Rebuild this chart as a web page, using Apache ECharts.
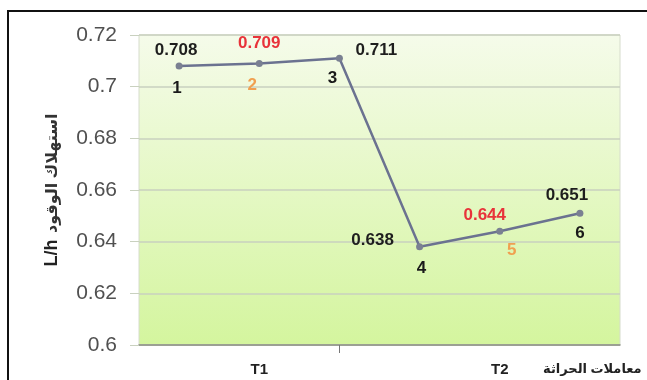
<!DOCTYPE html>
<html>
<head>
<meta charset="utf-8">
<script src="https://cdn.jsdelivr.net/npm/echarts@6/dist/echarts.min.js"></script>
<style>
	html, body { margin: 0; padding: 0; background: #fff; }
	#myChart { width: 647px; height: 380px; }
</style>
</head>
<body>
<div id="myChart"></div>
<script>
	// 数据
	var categories = ['1', '2', '3', '4', '5', '6'];
	var fuelValues = [0.708, 0.709, 0.711, 0.638, 0.644, 0.651];
	var pointNumbers = ['1', '2', '3', '4', '5', '6'];
	var groupLabels = ['', 'T1', '', '', 'T2', ''];
	var yTicks = [0.6, 0.62, 0.64, 0.66, 0.68, 0.7, 0.72];

	// label styling (offsets from the point, colours)
	var valueOffsets = [[-3, -16], [0, -20], [37, -8], [-47, -7], [-15, -16], [-13, -18]];
	var valueColors = ['#1e1e1e', '#e8333a', '#1e1e1e', '#1e1e1e', '#e8333a', '#1e1e1e'];
	var numberOffsets = [[-2, 22], [-7, 22], [-7, 20], [2, 21], [12, 19], [0, 20]];
	var numberColors = ['#1a1a1a', '#f0a050', '#1a1a1a', '#1a1a1a', '#f0a050', '#1a1a1a'];

	var myChart = echarts.init(document.getElementById('myChart'));

	var valueData = fuelValues.map(function(v, i) {
		return {
			value: v,
			label: {
				show: true,
				position: 'inside',
				offset: valueOffsets[i],
				color: valueColors[i],
				formatter: v.toFixed(3)
			}
		};
	});

	var numberData = fuelValues.map(function(v, i) {
		return {
			value: v,
			label: {
				show: true,
				position: 'inside',
				offset: numberOffsets[i],
				color: numberColors[i],
				formatter: pointNumbers[i]
			}
		};
	});

	var option = {
		animation: false,
		textStyle: {
			fontFamily: 'Liberation Sans, Arial, sans-serif'
		},
		graphic: [{
			type: 'rect',
			shape: { x: 8, y: 11, width: 700, height: 420 },
			style: { fill: 'none', stroke: '#111', lineWidth: 2 },
			z: 100
		}, {
			type: 'text',
			left: 543,
			top: 363,
			style: {
				text: 'معاملات الحراثة',
				font: 'bold 13px "Noto Sans", "DejaVu Sans", sans-serif',
				fill: '#222'
			}
		}],
		grid: {
			left: 139,
			right: 27,
			top: 35,
			bottom: 35,
			show: true,
			borderWidth: 1,
			borderColor: '#d6dccc',
			backgroundColor: new echarts.graphic.LinearGradient(0, 0, 0, 1, [{
				offset: 0,
				color: '#f5fbea'
			}, {
				offset: 1,
				color: '#d4f59e'
			}])
		},
		xAxis: {
			type: 'category',
			data: categories,
			boundaryGap: true,
			axisLine: {
				lineStyle: { color: '#8a8f84', width: 1.5 }
			},
			axisTick: {
				show: true,
				alignWithLabel: true,
				interval: function(index) {
					return index === 2;
				},
				length: 8,
				lineStyle: { color: '#777' }
			},
			axisLabel: {
				interval: 0,
				margin: 17,
				fontSize: 15,
				fontWeight: 'bold',
				color: '#222',
				formatter: function(val, idx) {
					return groupLabels[idx];
				}
			},
			splitLine: { show: false }
		},
		yAxis: {
			type: 'value',
			min: 0.6,
			max: 0.72,
			interval: 0.02,
			name: '{b|L/h}  {a|استهلاك الوقود}',
			nameLocation: 'middle',
			nameGap: 78,
			nameRotate: 90,
			nameTextStyle: {
				rich: {
					a: { fontSize: 16, fontWeight: 'bold', color: '#333', fontFamily: 'Noto Sans, DejaVu Sans, sans-serif' },
					b: { fontSize: 18, fontWeight: 'bold', color: '#222', fontFamily: 'Liberation Sans, Arial, sans-serif' }
				}
			},
			axisLine: { show: false },
			axisTick: {
				show: true,
				length: 9,
				lineStyle: { color: '#c9d1bf' }
			},
			axisLabel: {
				fontSize: 21,
				color: '#505050',
				margin: 22,
				formatter: function(v) {
					var s = String(Math.round(v * 100) / 100);
					return yTicks.indexOf(Number(s)) >= 0 ? s : '';
				}
			},
			splitLine: {
				lineStyle: { color: '#c9d1bf', width: 1.5 }
			}
		},
		series: [{
			name: 'fuel',
			type: 'line',
			data: valueData,
			symbol: 'circle',
			symbolSize: 7,
			lineStyle: {
				color: '#6b7290',
				width: 2.5
			},
			itemStyle: {
				color: '#7a8092'
			},
			label: {
				fontSize: 17,
				fontWeight: 'bold'
			},
			z: 3
		}, {
			name: 'num',
			type: 'line',
			data: numberData,
			symbol: 'circle',
			symbolSize: 1,
			lineStyle: { width: 0, opacity: 0 },
			itemStyle: {
				color: 'rgba(0,0,0,0)'
			},
			label: {
				fontSize: 17,
				fontWeight: 'bold'
			},
			z: 4
		}]
	};

	myChart.setOption(option);
</script>
</body>
</html>
